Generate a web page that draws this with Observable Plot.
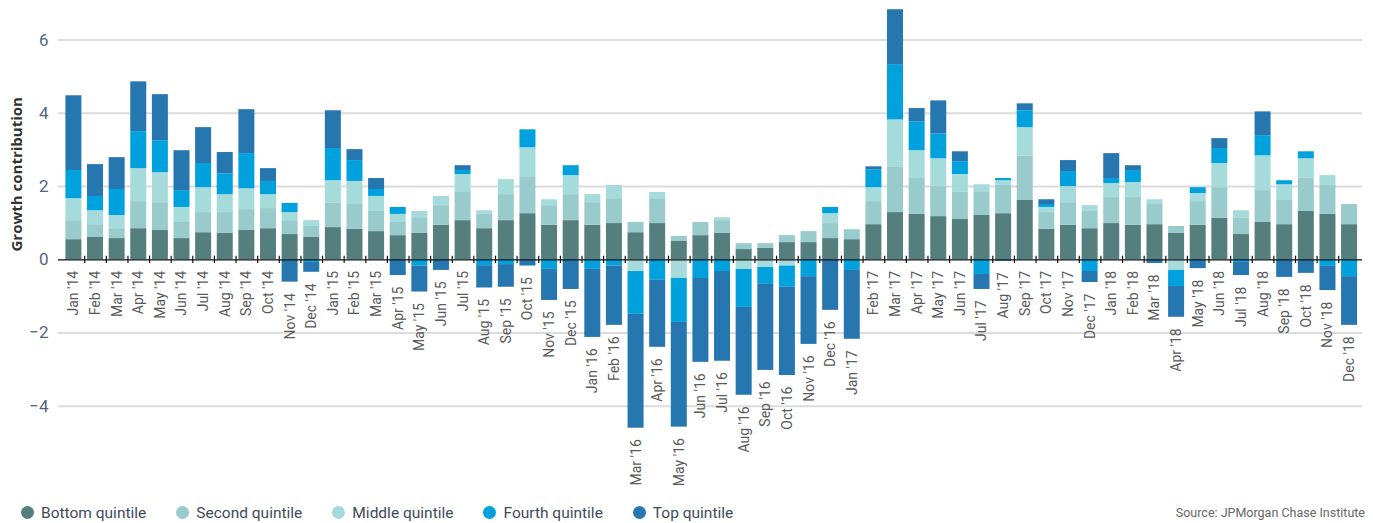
<!DOCTYPE html>
<html>
<head>
<meta charset="utf-8">
<script src="https://cdn.jsdelivr.net/npm/d3@7"></script>
<script src="https://cdn.jsdelivr.net/npm/@observablehq/plot@0.6"></script>
<style>
  body { margin: 0; background: #fff; font-family: Roboto, "Noto Sans", sans-serif; }
  #wrap { width: 1373px; height: 523px; position: relative; overflow: hidden; }
  #footer { display: flex; align-items: center; justify-content: space-between; height: 31px; padding: 5px 8px 0 21px; }
  .legend { display: flex; align-items: center; gap: 0; }
  .item { display: flex; align-items: center; margin-right: 30px; font-size: 15.5px; color: #3f4b5c; }
  .dot { width: 13px; height: 13px; border-radius: 50%; margin-right: 7px; }
  .source { font-size: 12.5px; color: #666; }
</style>
</head>
<body>
<div id="wrap">
  <div id="chart"></div>
  <div id="footer">
    <div class="legend" id="legend"></div>
    <div class="source">Source: JPMorgan Chase Institute</div>
  </div>
</div>
<script>
// Monthly growth contribution by income quintile, Jan 2014 – Dec 2018
const months = [
  "Jan '14","Feb '14","Mar '14","Apr '14","May '14","Jun '14","Jul '14","Aug '14","Sep '14","Oct '14","Nov '14","Dec '14",
  "Jan '15","Feb '15","Mar '15","Apr '15","May '15","Jun '15","Jul '15","Aug '15","Sep '15","Oct '15","Nov '15","Dec '15",
  "Jan '16","Feb '16","Mar '16","Apr '16","May '16","Jun '16","Jul '16","Aug '16","Sep '16","Oct '16","Nov '16","Dec '16",
  "Jan '17","Feb '17","Mar '17","Apr '17","May '17","Jun '17","Jul '17","Aug '17","Sep '17","Oct '17","Nov '17","Dec '17",
  "Jan '18","Feb '18","Mar '18","Apr '18","May '18","Jun '18","Jul '18","Aug '18","Sep '18","Oct '18","Nov '18","Dec '18"
];

const series = ["Bottom quintile", "Second quintile", "Middle quintile", "Fourth quintile", "Top quintile"];
const colors = ["#557f7e", "#9acbcc", "#a6dbdc", "#00a1dd", "#2676b0"];

const bottomQ = [
  0.55,0.61,0.58,0.85,0.80,0.58,0.74,0.72,0.80,0.85,0.69,0.61,
  0.88,0.83,0.77,0.66,0.72,0.94,1.07,0.85,1.07,1.26,0.94,1.07,
  0.94,0.99,0.74,0.99,0.50,0.66,0.72,0.28,0.31,0.47,0.47,0.58,
  0.55,0.96,1.29,1.24,1.18,1.10,1.21,1.26,1.62,0.83,0.94,0.85,
  0.99,0.94,0.96,0.72,0.94,1.13,0.69,1.02,0.96,1.32,1.24,0.96
];
const secondQ = [
  0.52,0.35,0.27,0.74,0.76,0.46,0.55,0.57,0.57,0.55,0.38,0.30,
  0.66,0.68,0.55,0.36,0.43,0.54,0.79,0.39,0.71,1.01,0.54,0.71,
  0.62,0.68,0.28,0.68,0.14,0.36,0.35,0.16,0.13,0.19,0.30,0.41,
  0.25,0.63,1.25,0.98,0.82,0.74,0.65,0.77,1.22,0.46,0.62,0.49,
  0.71,0.76,0.55,0.19,0.65,0.84,0.44,0.87,0.66,0.92,0.79,0.55
];
const middleQ = [
  0.60,0.38,0.36,0.90,0.82,0.39,0.68,0.49,0.57,0.38,0.22,0.16,
  0.62,0.63,0.41,0.22,0.17,0.25,0.47,0.10,0.41,0.79,0.16,0.52,
  0.22,0.36,-0.32,0.17,-0.51,0,0.08,-0.26,-0.21,-0.17,0,0.27,
  0.03,0.38,1.28,0.76,0.76,0.49,0.19,0.13,0.77,0.14,0.44,0.14,
  0.38,0.41,0.13,-0.29,0.22,0.66,0.21,0.95,0.43,0.52,0.27,0
];
const fourthQ = [
  0.77,0.39,0.71,1.01,0.87,0.46,0.66,0.57,0.96,0.36,0.25,-0.07,
  0.88,0.57,0.19,0.19,-0.17,0,0.11,-0.16,-0.13,0.49,-0.26,0.27,
  -0.26,-0.17,-1.17,-0.56,-1.20,-0.51,-0.32,-1.04,-0.46,-0.58,-0.46,0.17,
  -0.29,0.49,1.51,0.79,0.68,0.35,-0.40,0.06,0.46,0.08,0.41,-0.32,
  0.14,0.33,0,-0.44,0.16,0.41,-0.07,0.55,0.11,0.19,-0.18,-0.46
];
const topQ = [
  2.04,0.87,0.87,1.36,1.26,1.09,0.98,0.58,1.20,0.35,-0.61,-0.27,
  1.03,0.30,0.30,-0.43,-0.71,-0.29,0.13,-0.61,-0.62,-0.17,-0.85,-0.81,
  -1.86,-1.62,-3.11,-1.83,-2.86,-2.29,-2.45,-2.40,-2.35,-2.41,-1.85,-1.38,
  -1.88,0.08,1.50,0.36,0.90,0.27,-0.41,-0.04,0.19,0.13,0.30,-0.30,
  0.68,0.13,-0.10,-0.84,-0.24,0.27,-0.36,0.65,-0.48,-0.37,-0.66,-1.33
];
const yTicks = [-4, -2, 0, 2, 4, 6];

const columns = [bottomQ, secondQ, middleQ, fourthQ, topQ];
const rows = months.flatMap((m, i) =>
  series.map((s, j) => ({month: m, quintile: s, value: columns[j][i]}))
);

// Lowest point of each month's bar, so its label sits just underneath
const negTotal = months.map((m, i) =>
  columns.reduce((acc, col) => acc + Math.min(0, col[i]), 0)
);
const labels = months.map((m, i) => ({month: m, y: negTotal[i]}));

const chart = Plot.plot({
  width: 1373,
  height: 492,
  marginLeft: 58,
  marginRight: 11,
  marginTop: 3,
  marginBottom: 13,
  style: {fontFamily: "Roboto, 'Noto Sans', sans-serif", background: "#fff"},
  x: {domain: months, paddingInner: 0.26, paddingOuter: 0.285, align: 0.6, axis: null},
  y: {domain: [-6, 7], axis: null},
  color: {domain: series, range: colors},
  marks: [
    Plot.gridY(yTicks.filter(d => d !== 0), {stroke: "#dcdcdc", strokeOpacity: 1, strokeWidth: 2}),
    Plot.axisY(yTicks, {
      tickSize: 0, tickPadding: 10, fontSize: 17, fill: "#56657f", label: null
    }),
    Plot.barY(rows, {x: "month", y: "value", fill: "quintile", order: series}),
    Plot.ruleY([0], {stroke: "#111", strokeWidth: 1.3}),
    Plot.ruleX(months.slice(0, -1), {x: d => d, y1: -0.1, y2: 0.1, dx: 10.8, stroke: "#111", strokeWidth: 1.2}),
    Plot.text(labels, {
      x: "month", y: "y", text: "month", rotate: -90,
      textAnchor: "end", lineAnchor: "middle", dy: 11,
      fontSize: 14, fill: "#5a5a5a"
    }),
    Plot.text(["Growth contribution"], {
      frameAnchor: "left", dx: -41, dy: 10, rotate: -90,
      fontSize: 15, fontWeight: "bold", fill: "#333",
      fontFamily: "'Open Sans', Roboto, sans-serif"
    })
  ]
});
document.getElementById("chart").appendChild(chart);

const legend = document.getElementById("legend");
series.forEach((s, i) => {
  const item = document.createElement("div");
  item.className = "item";
  const dot = document.createElement("span");
  dot.className = "dot";
  dot.style.background = colors[i];
  item.appendChild(dot);
  item.appendChild(document.createTextNode(s));
  legend.appendChild(item);
});
</script>
</body>
</html>
